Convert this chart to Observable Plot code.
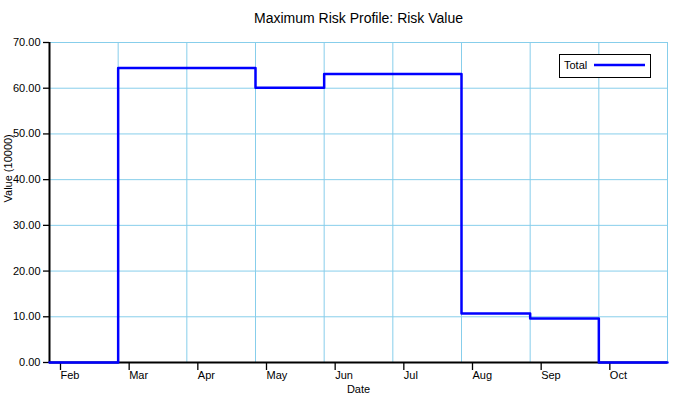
<!DOCTYPE html>
<html>
<head>
<meta charset="utf-8">
<script src="https://cdn.jsdelivr.net/npm/d3@7"></script>
<script src="https://cdn.jsdelivr.net/npm/@observablehq/plot@0.6"></script>
<style>
  html, body { margin: 0; padding: 0; background: #fff; }
  #chart { position: relative; width: 687px; height: 396px; }
</style>
</head>
<body>
<div id="chart"></div>
<script>
const title = "Maximum Risk Profile: Risk Value";
const months = ["Feb", "Mar", "Apr", "May", "Jun", "Jul", "Aug", "Sep", "Oct"];
const totalValues = [0, 64.4, 64.4, 60.1, 63.1, 63.1, 10.7, 9.6, 0];
const yTicks = [0, 10, 20, 30, 40, 50, 60, 70];
const seriesName = "Total";
const xLabel = "Date";
const yLabel = "Value (10000)";

const monthIdx = months.map((m, i) => i);
const data = totalValues.map((v, i) => ({x: i, y: v}));
data.push({x: months.length, y: totalValues[totalValues.length - 1]});

const grid = "#87CEEB";
const font = "'Liberation Sans', Arial, sans-serif";

const plot = Plot.plot({
  width: 687,
  height: 396,
  marginTop: 42,
  marginBottom: 34,
  marginLeft: 49,
  marginRight: 20,
  style: {fontFamily: font, fontSize: "11px", background: "#fff", color: "#000"},
  x: {domain: [0, months.length]},
  y: {domain: [0, 70]},
  marks: [
    Plot.ruleY(yTicks.filter(d => d > 0), {stroke: grid, strokeWidth: 1, strokeOpacity: 1}),
    Plot.ruleX(d3.range(1, months.length + 1), {stroke: grid, strokeWidth: 1, strokeOpacity: 1}),
    Plot.axisX(monthIdx, {
      tickSize: 8, tickPadding: 1, textAnchor: "start", dx: 11,
      tickFormat: i => months[i], label: null, stroke: "#000", strokeWidth: 1.3, fill: "#000"
    }),
    Plot.axisY(yTicks, {
      tickSize: 6, tickPadding: 3, tickFormat: d3.format(".2f"), label: null,
      stroke: "#000", strokeWidth: 1.3, fill: "#000"
    }),
    Plot.ruleY([0], {stroke: "#000", strokeWidth: 2}),
    Plot.ruleX([0], {stroke: "#000", strokeWidth: 2}),
    Plot.line(data, {x: "x", y: "y", curve: "step-after", stroke: "#0000ff", strokeWidth: 2.5}),
    Plot.text([title], {frameAnchor: "top", dy: -29, fontSize: 14, fill: "#000"}),
    Plot.text([xLabel], {frameAnchor: "bottom", dy: 30, fontSize: 11, fill: "#000"}),
    Plot.text([yLabel], {frameAnchor: "left", dx: -41, rotate: -90, fontSize: 11, fill: "#000"})
  ]
});

// Legend box (drawn inside the SVG)
const svg = d3.select(plot);
const lg = svg.append("g").attr("font-family", font).attr("font-size", 11).attr("text-anchor", "start");
lg.append("rect").attr("x", 559.5).attr("y", 54.5).attr("width", 91).attr("height", 23)
  .attr("fill", "#fff").attr("stroke", "#000").attr("stroke-width", 1);
lg.append("text").attr("x", 564).attr("y", 69).attr("fill", "#000").attr("text-anchor", "start").text(seriesName);
lg.append("line").attr("x1", 594).attr("x2", 645).attr("y1", 65).attr("y2", 65)
  .attr("stroke", "#0000ff").attr("stroke-width", 2.5);

document.getElementById("chart").appendChild(plot);
</script>
</body>
</html>
